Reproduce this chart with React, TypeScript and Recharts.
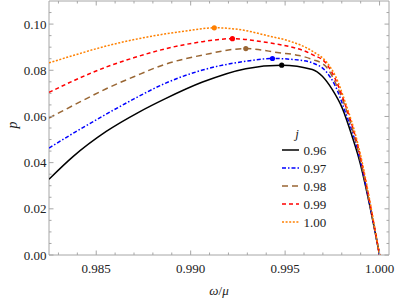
import React from 'react';
import { LineChart, Line, XAxis, YAxis, ReferenceArea, ReferenceDot, Legend } from 'recharts';

// ---- data ----
const SERIES_NAMES = ['0.96', '0.97', '0.98', '0.99', '1.00'];

const X_096 = [0.9825, 0.98377, 0.98553, 0.98729, 0.98861, 0.99063, 0.99292, 0.99482, 0.99644, 0.99697, 0.9975, 0.99802, 0.99855, 0.9989, 1.0];
const Y_096 = [0.0328, 0.0426, 0.0535, 0.062, 0.0675, 0.0749, 0.0807, 0.0822, 0.0803, 0.0774, 0.0716, 0.0637, 0.0513, 0.042, 0.0];

const X_097 = [0.9825, 0.98386, 0.98553, 0.98702, 0.98861, 0.99063, 0.99292, 0.99433, 0.99574, 0.99644, 0.99715, 0.99767, 0.9982, 0.99869, 1.0];
const Y_097 = [0.0463, 0.0531, 0.061, 0.0677, 0.0742, 0.0801, 0.0839, 0.0851, 0.0844, 0.0832, 0.0796, 0.073, 0.0616, 0.0499, 0.0];

const X_098 = [0.9825, 0.98386, 0.98553, 0.98702, 0.98861, 0.99063, 0.99292, 0.99468, 0.99574, 0.99644, 0.99715, 0.99767, 0.9982, 0.99869, 1.0];
const Y_098 = [0.0593, 0.0651, 0.072, 0.0773, 0.0825, 0.0866, 0.0894, 0.0876, 0.0864, 0.0847, 0.0817, 0.0745, 0.0638, 0.0507, 0.0];

const X_099 = [0.9825, 0.98386, 0.98553, 0.98702, 0.98861, 0.99063, 0.99221, 0.99415, 0.99468, 0.99644, 0.99715, 0.99767, 0.9982, 0.99874, 1.0];
const Y_099 = [0.0704, 0.0757, 0.0814, 0.0855, 0.0892, 0.0924, 0.0937, 0.0919, 0.0912, 0.0868, 0.0832, 0.076, 0.0647, 0.0507, 0.0];

const X_100 = [0.9825, 0.98386, 0.98553, 0.98702, 0.98861, 0.98975, 0.99125, 0.99283, 0.99415, 0.99521, 0.99644, 0.99723, 0.99767, 0.9982, 0.9988, 1.0];
const Y_100 = [0.0832, 0.0866, 0.0905, 0.0933, 0.0957, 0.097, 0.0984, 0.0973, 0.0948, 0.0927, 0.0883, 0.0832, 0.0774, 0.0658, 0.0499, 0.0];

const PEAK_X = [0.99482, 0.99433, 0.99292, 0.99221, 0.99125];
const PEAK_Y = [0.0822, 0.0851, 0.0894, 0.0937, 0.0984];

const X_MAJOR = [0.985, 0.99, 0.995, 1.0];
const X_MINOR = [0.983, 0.984, 0.986, 0.987, 0.988, 0.989, 0.991, 0.992, 0.993, 0.994, 0.996, 0.997, 0.998, 0.999];
const Y_MAJOR = [0, 0.02, 0.04, 0.06, 0.08, 0.1];
const Y_MINOR = [0.005, 0.01, 0.015, 0.025, 0.03, 0.035, 0.045, 0.05, 0.055, 0.065, 0.07, 0.075, 0.085, 0.09, 0.095, 0.105];

// ---- styling ----
const COLORS = ['#000000', '#0000ff', '#996633', '#ff0000', '#ff8000'];
const DASHES = [undefined, '4 2 1.5 2', '6 4', '4 3', '2 1.6'];
const FONT = '"Liberation Serif", "Times New Roman", Tinos, "DejaVu Serif", "Noto Serif", serif';
const FRAME = '#a6a6a6';
const TEXT = '#222';

const W = 395;
const H = 300;
const MARGIN = { top: 1, right: 6, bottom: 0, left: 0 };
const Y_AXIS_W = 49;
const X_AXIS_H = 45;
const PLOT_TOP = MARGIN.top;
const PLOT_RIGHT = W - MARGIN.right;

const XS = [X_096, X_097, X_098, X_099, X_100];
const YS = [Y_096, Y_097, Y_098, Y_099, Y_100];
const seriesData = XS.map((xs, i) => xs.map((x, k) => ({ x, y: YS[i][k] })));

const isMajor = (v: number, majors: number[]) => majors.some((m) => Math.abs(m - v) < 1e-9);

const XTick = (props: any) => {
  const { x, y, payload } = props;
  const major = isMajor(payload.value, X_MAJOR);
  const len = major ? 4.5 : 2.5;
  return (
    <g>
      <line x1={x} x2={x} y1={y} y2={y - len} stroke={FRAME} strokeWidth={1} />
      <line x1={x} x2={x} y1={PLOT_TOP} y2={PLOT_TOP + len} stroke={FRAME} strokeWidth={1} />
      {major && (
        <text x={x} y={y + 13} textAnchor="middle" dominantBaseline="central" fontFamily={FONT} fontSize={13} fill={TEXT}>
          {payload.value.toFixed(3)}
        </text>
      )}
    </g>
  );
};

const YTick = (props: any) => {
  const { x, y, payload } = props;
  const major = isMajor(payload.value, Y_MAJOR);
  const len = major ? 4.5 : 2.5;
  return (
    <g>
      <line x1={x} x2={x + len} y1={y} y2={y} stroke={FRAME} strokeWidth={1} />
      <line x1={PLOT_RIGHT} x2={PLOT_RIGHT - len} y1={y} y2={y} stroke={FRAME} strokeWidth={1} />
      {major && (
        <text x={x - 2.5} y={y} textAnchor="end" dominantBaseline="central" fontFamily={FONT} fontSize={13} fill={TEXT}>
          {payload.value.toFixed(2)}
        </text>
      )}
    </g>
  );
};

const XLabel = (props: any) => {
  const vb = props.viewBox || {};
  return (
    <text x={vb.x + vb.width / 2} y={vb.y + 35} textAnchor="middle" dominantBaseline="central" fontFamily={FONT} fontSize={13} fill={TEXT}>
      <tspan fontStyle="italic">ω</tspan>
      <tspan>/</tspan>
      <tspan fontStyle="italic">μ</tspan>
    </text>
  );
};

const YLabel = (props: any) => {
  const vb = props.viewBox || {};
  const cx = 12;
  const cy = vb.y + vb.height / 2 - 3;
  return (
    <text x={cx} y={cy} transform={`rotate(-90 ${cx} ${cy})`} textAnchor="middle" dominantBaseline="central" fontFamily={FONT} fontSize={14} fontStyle="italic" fill={TEXT}>
      p
    </text>
  );
};

const LegendContent = () => (
  <svg width={90} height={115} style={{ display: 'block' }}>
    <text x={27} y={13} textAnchor="middle" dominantBaseline="central" fontFamily={FONT} fontSize={13} fontStyle="italic" fill={TEXT}>
      j
    </text>
    {SERIES_NAMES.map((name, i) => {
      const cy = 30 + i * 18;
      return (
        <g key={name}>
          <line x1={12} x2={29} y1={cy} y2={cy} stroke={COLORS[i]} strokeWidth={1.5} strokeDasharray={DASHES[i]} />
          <text x={33.5} y={cy} dominantBaseline="central" fontFamily={FONT} fontSize={13} fill={TEXT}>
            {name}
          </text>
        </g>
      );
    })}
  </svg>
);

export default function App() {
  return (
    <div style={{ position: 'absolute', left: 0, top: 0, width: W, height: H, background: '#fff' }}>
      <LineChart width={W} height={H} margin={MARGIN}>
        <XAxis
          dataKey="x"
          type="number"
          domain={[0.9825, 1.0005]}
          ticks={[...X_MINOR, ...X_MAJOR].sort((a, b) => a - b)}
          allowDataOverflow
          height={X_AXIS_H}
          tickSize={0}
          tickMargin={0}
          tickLine={false}
          axisLine={false}
          tick={<XTick />}
          interval={0}
          label={<XLabel />}
        />
        <YAxis
          type="number"
          domain={[0, 0.11]}
          ticks={[...Y_MINOR, ...Y_MAJOR].sort((a, b) => a - b)}
          allowDataOverflow
          width={Y_AXIS_W}
          tickSize={0}
          tickMargin={0}
          tickLine={false}
          axisLine={false}
          tick={<YTick />}
          interval={0}
          label={<YLabel />}
        />
        <ReferenceArea x1={0.9825} x2={1.0005} y1={0} y2={0.11} fill="none" stroke={FRAME} strokeWidth={1} ifOverflow="visible" />
        {seriesData.map((d, i) => (
          <Line
            key={SERIES_NAMES[i]}
            data={d}
            dataKey="y"
            name={SERIES_NAMES[i]}
            type="monotone"
            stroke={COLORS[i]}
            strokeWidth={1.5}
            strokeDasharray={DASHES[i]}
            dot={false}
            activeDot={false}
            isAnimationActive={false}
          />
        ))}
        {PEAK_X.map((px, i) => (
          <ReferenceDot key={'pk' + i} x={px} y={PEAK_Y[i]} r={2.6} fill={COLORS[i]} stroke="none" ifOverflow="visible" />
        ))}
        <Legend
          layout="vertical"
          align="center"
          verticalAlign="middle"
          content={<LegendContent />}
          wrapperStyle={{ position: 'absolute', left: 270, top: 120, width: 90, height: 115 }}
        />
      </LineChart>
    </div>
  );
}
